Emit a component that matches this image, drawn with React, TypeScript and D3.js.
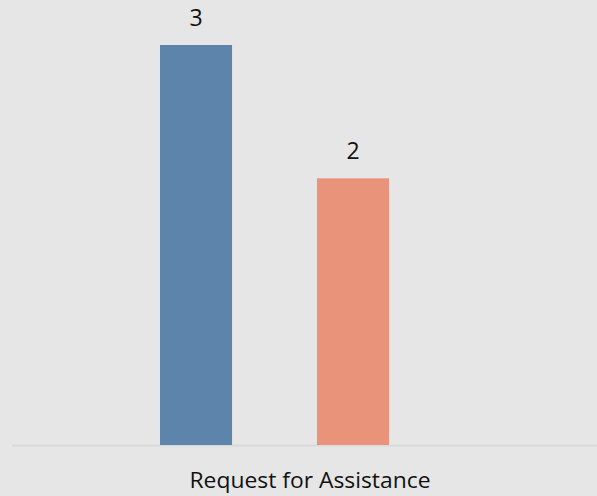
import React from "react";
import * as d3 from "d3";

const categories = ["Request for Assistance"];
const seriesNames = ["Series A", "Series B"];
const seriesValues = [3, 2];
const seriesColors = ["#5d84ab", "#e8937a"];

const W = 597;
const H = 496;

export default function App() {
  const y = d3.scaleLinear().domain([0, 3]).range([445, 45]);
  const x = d3
    .scaleBand<string>()
    .domain(seriesNames)
    .range([160, 389])
    .paddingInner(0.541)
    .paddingOuter(0);
  const font = "'Open Sans', sans-serif";
  return (
    <svg
      width={W}
      height={H}
      style={{ position: "absolute", left: 0, top: 0, display: "block" }}
    >
      <rect x={0} y={0} width={W} height={H} fill="#e6e6e6" />
      <line x1={12} x2={W} y1={445.5} y2={445.5} stroke="#d9d9d9" strokeWidth={2} />
      {seriesNames.map((s, i) => (
        <g key={s}>
          <rect
            x={x(s)}
            y={y(seriesValues[i])}
            width={x.bandwidth()}
            height={y(0) - y(seriesValues[i])}
            fill={seriesColors[i]}
          />
          <text
            x={(x(s) as number) + x.bandwidth() / 2}
            y={y(seriesValues[i]) - 19}
            textAnchor="middle"
            fontFamily={font}
            fontSize={23}
            fill="#111"
            transform={`scale(1,1)`}
          >
            {seriesValues[i]}
          </text>
        </g>
      ))}
      <text
        x={310}
        y={488}
        textAnchor="middle"
        fontFamily={font}
        fontSize={22}
        fill="#111"
        textLength={241}
        lengthAdjust="spacingAndGlyphs"
      >
        {categories[0]}
      </text>
    </svg>
  );
}
